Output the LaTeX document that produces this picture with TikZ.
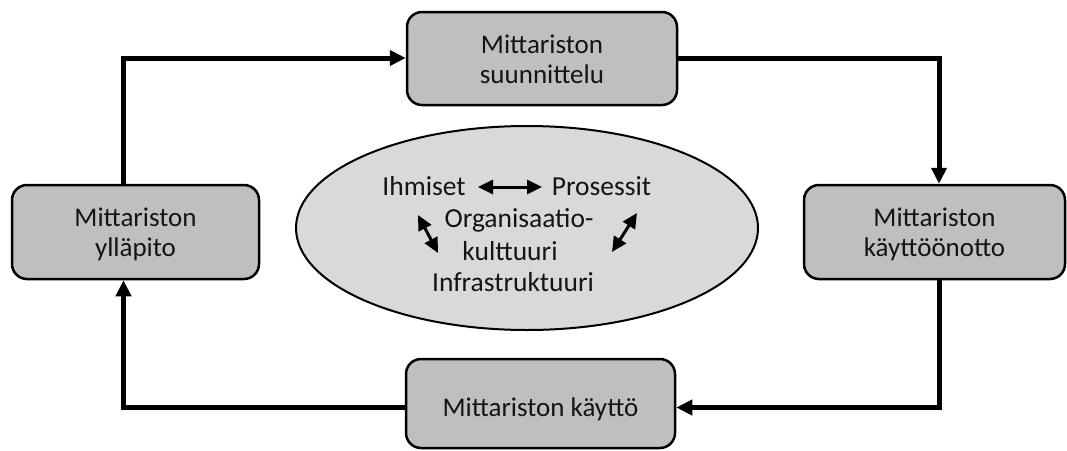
\documentclass[tikz,border=0pt]{standalone}
\usepackage{fontspec}
\setmainfont{Carlito}
\usetikzlibrary{shapes.geometric,arrows.meta}
\definecolor{stagegray}{RGB}{191,191,191}
\definecolor{coregray}{RGB}{217,217,217}
\definecolor{inktext}{RGB}{20,20,20}
% struts that fix the first-line height and last-line depth of box texts
\newcommand{\boxtopstrut}{\rule{0pt}{24pt}}
\newcommand{\boxbotstrut}{\rule[-5pt]{0pt}{5pt}}
\newcommand{\boxonestrut}{\rule[-5pt]{0pt}{35pt}}
\begin{document}
\begin{tikzpicture}[x=1pt,y=-1pt,
  stage/.style={draw=black, line width=2.5pt, fill=stagegray, rounded corners=15pt,
    align=center, inner sep=0pt, text=inktext,
    font=\fontsize{27pt}{30pt}\selectfont},
  flow/.style={line width=5pt, miter limit=10, -{Triangle[length=16pt,width=15pt]}},
  word/.style={anchor=base, inner sep=0pt, text=inktext,
    font=\fontsize{27.5pt}{30pt}\selectfont},
  link/.style={line width=3pt, {Triangle[length=15pt,width=14pt]}-{Triangle[length=15pt,width=14pt]}}]
\useasboundingbox (0,0) rectangle (1067,450);

% the four stages of the cycle
\node[stage, minimum width=270pt, minimum height=93pt] (plan) at (542,58.5)
  {\boxtopstrut Mittariston\\suunnittelu\boxbotstrut};
\node[stage, minimum width=261pt, minimum height=94pt] (deploy) at (934.5,232)
  {\boxtopstrut Mittariston\\käyttöönotto\boxbotstrut};
\node[stage, minimum width=269pt, minimum height=89pt] (use) at (540.5,403.5)
  {\boxonestrut Mittariston käyttö};
\node[stage, minimum width=247pt, minimum height=94pt] (maint) at (135.5,232)
  {\boxtopstrut Mittariston\\ylläpito\boxbotstrut};

% the central ellipse and its factors
\node[ellipse, draw=black, line width=2pt, fill=coregray, inner sep=0pt,
  minimum width=462pt, minimum height=204pt] (core) at (527,228) {};
\node[word] (ihm) at (424,195.5) {Ihmiset};
\node[word] (pro) at (601.5,195.5) {Prosessit};
\node[word] (org) at (519,227.5) {Organisaatio-};
\node[word] (kul) at (510,260) {kulttuuri};
\node[word] (inf) at (513,291) {Infrastruktuuri};

% links between the factors
\coordinate (ihmR) at (478,187);
\coordinate (proL) at (542,187);
\coordinate (dlA) at (418,215);
\coordinate (dlB) at (438,253);
\coordinate (drA) at (637,213);
\coordinate (drB) at (612,252);
\draw[link] (ihmR) -- (proL);
\draw[link] (dlA) -- (dlB);
\draw[link] (drA) -- (drB);

% cycle connectors
\coordinate (lt) at (123.5,58);
\coordinate (rt) at (939,58);
\coordinate (rbt) at (939,407.5);
\coordinate (lbt) at (123.5,407.5);
\draw[flow] (maint.north -| lt) -- (lt) -- (plan.west |- lt);
\draw[flow] (plan.east |- rt) -- (rt) -- (deploy.north -| rt);
\draw[flow] (deploy.south -| rbt) -- (rbt) -- (use.east |- rbt);
\draw[flow] (use.west |- lbt) -- (lbt) -- (maint.south -| lbt);
\end{tikzpicture}
\end{document}
